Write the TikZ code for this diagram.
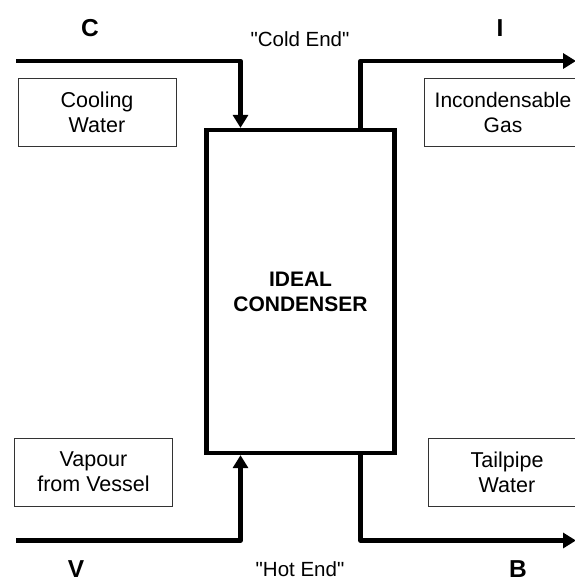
\documentclass[tikz,border=0pt]{standalone}
\usepackage{fontspec}
\setmainfont{Liberation Sans}
\usepackage{tikz}
\usetikzlibrary{
    arrows.meta,
    calc,
    positioning
}

\begin{document}
\begin{tikzpicture}[x=1pt,y=-1pt,
    pipe/.style={line width=4.3pt,line join=round},
    flow/.style={pipe,-{Triangle[length=13pt,width=15pt]}},
    streambox/.style={draw=black!80,line width=0.8pt,minimum width=158pt,
        minimum height=68pt,align=center,inner sep=0pt,
        font=\fontsize{21.5}{25}\selectfont},
    letter/.style={anchor=base,font=\fontsize{24.5}{28}\selectfont\bfseries},
    endtext/.style={anchor=base,font=\fontsize{20.5}{24}\selectfont}]

\clip (0,0) rectangle (575,581);

% Condenser
\node[draw,line width=4.3pt,minimum width=188pt,minimum height=323pt,inner sep=0pt,
      align=center,font=\fontsize{21}{25}\selectfont\bfseries]
      (cond) at (300.5,291.5) {IDEAL\\CONDENSER};

% Stream labels
\node[streambox] (cw) at (97,112) {Cooling\\Water};
\node[streambox,font=\fontsize{21}{25}\selectfont] (gas) at (503,112) {Incondensable\\Gas};
\node[streambox] (vap) at (93.5,472) {Vapour\\from Vessel};
\node[streambox] (tail) at (507,472) {Tailpipe\\Water};

% Letters
\node[letter] (c) at (90,36) {C};
\node[letter] (i) at (500,36) {I};
\node[letter] (v) at (76,577) {V};
\node[letter] (b) at (518,577) {B};

% Ends
\node[endtext] (cold) at (300,46) {\textquotedbl Cold End\textquotedbl};
\node[endtext] (hot) at (300,576) {\textquotedbl Hot End\textquotedbl};

% Free pipe ends
\coordinate (cin) at (16,61);
\coordinate (iout) at (576,61);
\coordinate (vin) at (16,540.5);
\coordinate (bout) at (576,540.5);

% Cooling water in
\draw[flow] (cin) -| ([xshift=-60pt]cond.north);

% Incondensable gas out
\draw[flow] ([xshift=60pt]cond.north) |- (iout);

% Vapour in
\draw[flow] (vin) -| ([xshift=-60pt]cond.south);

% Tailpipe water out
\draw[flow] ([xshift=60pt]cond.south) |- (bout);

\end{tikzpicture}
\end{document}
